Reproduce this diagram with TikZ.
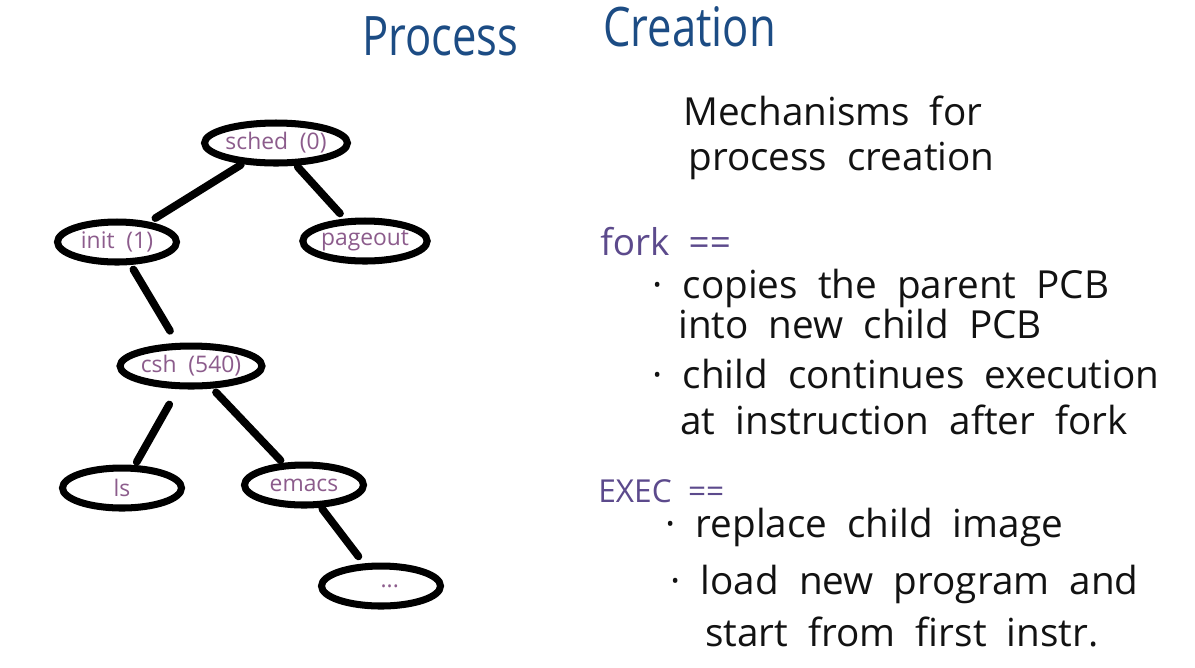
\documentclass[tikz,border=0pt]{standalone}
\usepackage{fontspec}
\setmainfont[WordSpace=2.0]{Open Sans}
\newfontfamily\titlefont[FakeStretch=0.8,WordSpace=1.8]{Open Sans}
\usetikzlibrary{shapes.geometric}

\definecolor{titleblue}{RGB}{28,76,132}
\definecolor{labelpurple}{RGB}{140,92,140}
\definecolor{keypurple}{RGB}{92,74,140}
\definecolor{ink}{RGB}{18,18,18}

\tikzset{
  proc/.style={ellipse, draw=black, line width=4pt, fill=white,
    minimum width=2.38cm, minimum height=0.8cm, inner sep=0pt,
    text=labelpurple, font=\fontsize{13}{15}\selectfont},
  edge/.style={line width=4.4pt, line cap=round},
  heading/.style={anchor=base west, inner sep=0pt, text=titleblue,
    font=\titlefont\fontsize{31}{36}\selectfont},
  body/.style={anchor=base west, inner sep=0pt, text=ink,
    font=\fontsize{22}{26}\selectfont},
  keyword/.style={anchor=base west, inner sep=0pt, text=keypurple,
    font=\fontsize{21}{25}\selectfont}
}

\begin{document}
\begin{tikzpicture}[x=0.02cm, y=-0.02cm]
\useasboundingbox (0,0) rectangle (1195,667);
\fill[white] (0,0) rectangle (1195,667);

% title
\node[heading] (t1) at (362,55) {Process};
\node[heading] (t2) at (603,46) {Creation};

% process tree
\node[proc] (sched) at (276,143) {sched (0)};
\node[proc] (init) at (117,242) {init (1)};
\node[proc] (pageout) at (365,241) {pageout};
\node[proc] (csh) at (191,366) {csh (540)};
\node[proc] (ls) at (122,488) {ls};
\node[proc] (emacs) at (304,485) {emacs};
\node[proc] (more) at (381,586) {\hspace*{0.35cm}...};

\draw[edge, shorten <=1pt, shorten >=4pt] (sched) -- (init);
\draw[edge, shorten <=1pt, shorten >=4pt] (sched) -- (pageout);
\draw[edge, shorten <=3pt, shorten >=8pt] (init) -- (csh);
\draw[edge, shorten <=10pt, shorten >=2pt] (csh) -- (ls);
\draw[edge, shorten <=3pt, shorten >=2pt] (csh) -- (emacs);
\draw[edge, shorten <=1pt, shorten >=5pt] (emacs) -- (more);

% mechanisms
\node[body] (m1) at (683,125) {Mechanisms for};
\node[body] (m2) at (688,170) {process creation};

\node[keyword] (fork) at (600,255) {fork ==};
\node[body] (f1) at (652,298) {· copies the parent PCB};
\node[body] (f2) at (678,338) {into new child PCB};
\node[body] (f3) at (652,388) {· child continues execution};
\node[body] (f4) at (680,434) {at instruction after fork};

\node[keyword, font=\fontsize{18}{22}\selectfont] (exec) at (598,502) {EXEC ==};
\node[body] (e1) at (665,537) {· replace child image};
\node[body] (e2) at (670,594) {· load new program and};
\node[body] (e3) at (705,646) {start from first instr.};
\end{tikzpicture}
\end{document}
